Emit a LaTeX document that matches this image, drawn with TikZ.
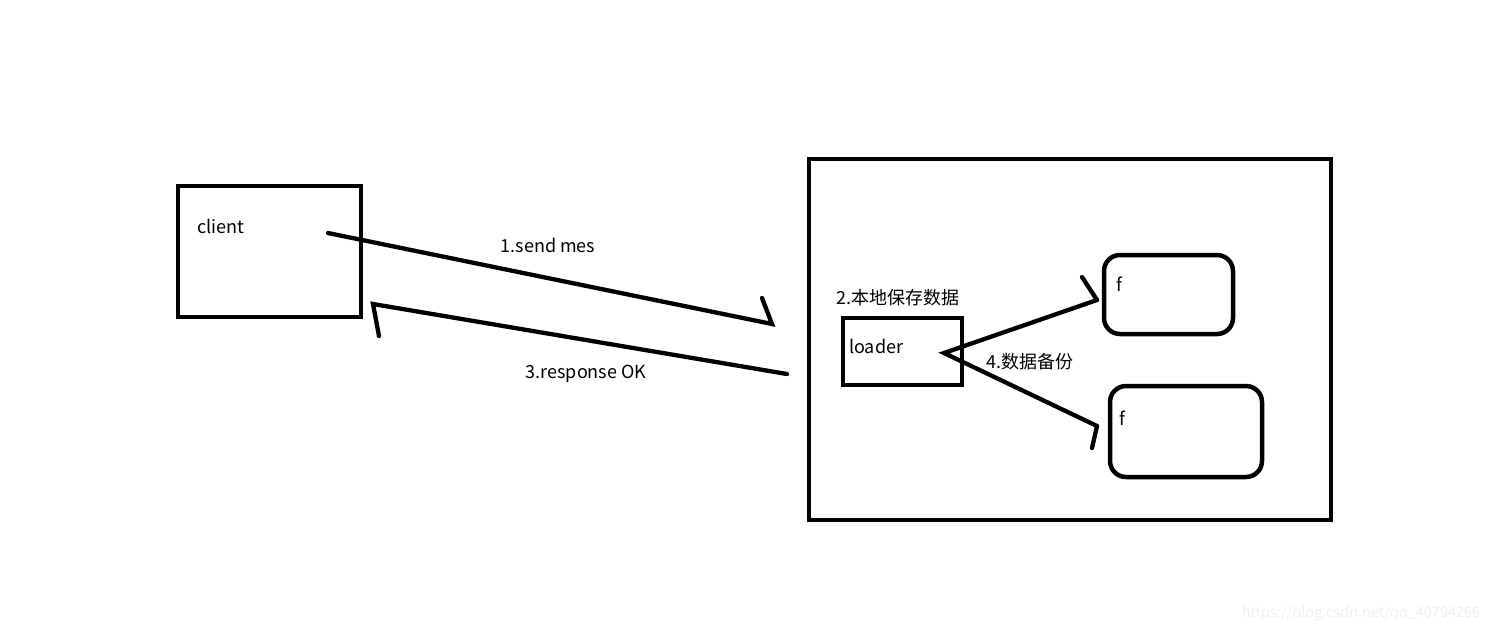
\documentclass[tikz,border=0pt]{standalone}
\usepackage{fontspec}
\setmainfont{Noto Sans CJK SC}
\begin{document}
\begin{tikzpicture}[x=1pt,y=-1pt,
  box/.style={draw=black,line width=4.5pt,inner sep=0pt},
  rbox/.style={draw=black,line width=4.5pt,rounded corners=16pt,inner sep=0pt},
  conn/.style={draw=black,line width=4.3pt,line cap=round,line join=miter},
  lbl/.style={font=\fontsize{18}{21}\selectfont,inner sep=0pt,anchor=base},
  wm/.style={font=\fontsize{14.5}{17}\selectfont,text=black!6,inner sep=0pt}]
\useasboundingbox[fill=white] (0,0) rectangle (1492,633);
% boxes
\node[box,minimum width=183pt,minimum height=131pt] (client) at (269.5,251.5) {};
\node[box,minimum width=522pt,minimum height=361pt] (server) at (1070,339.5) {};
\node[box,minimum width=119pt,minimum height=67pt] (loader) at (902.5,351.5) {};
\node[rbox,minimum width=129pt,minimum height=79pt] (f1) at (1168.5,294.5) {};
\node[rbox,minimum width=152pt,minimum height=91pt] (f2) at (1186,431.5) {};
% texts
\node[lbl,anchor=base west] (tclient) at (197,233) {client};
\node[lbl,anchor=base west] (tloader) at (849,353) {loader};
\node[lbl,anchor=base west] (tf1) at (1116,291) {f};
\node[lbl,anchor=base west] (tf2) at (1119,425) {f};
\node[lbl] (l1) at (548,252) {1.send mes};
\node[lbl] (l3) at (586,378) {3.response OK};
\node[lbl] (l2) at (898,304) {2.本地保存数据};
\node[lbl] (l4) at (1030,368) {4.数据备份};
\node[wm] (wmark) at (1361,614) {https://blog.csdn.net/qq\_40794266};
% connector points
\coordinate (a1s) at (328,233);
\coordinate (a1t) at (772,324);
\coordinate (a1b) at (762,298);
\coordinate (a3s) at (787,374);
\coordinate (a3t) at (373,304);
\coordinate (a3b) at (379,336);
\coordinate (v) at (944,353);
\coordinate (t1) at (1097,300);
\coordinate (b1) at (1082,277);
\coordinate (t2) at (1097,426);
\coordinate (b2) at (1092,448);
% connectors
\draw[conn] (a1s) -- (a1t) -- (a1b);
\draw[conn] (a3s) -- (a3t) -- (a3b);
\draw[conn] (t1) -- (v) -- (t2);
\draw[conn] (b1) -- (t1);
\draw[conn] (t2) -- (b2);
\end{tikzpicture}
\end{document}
